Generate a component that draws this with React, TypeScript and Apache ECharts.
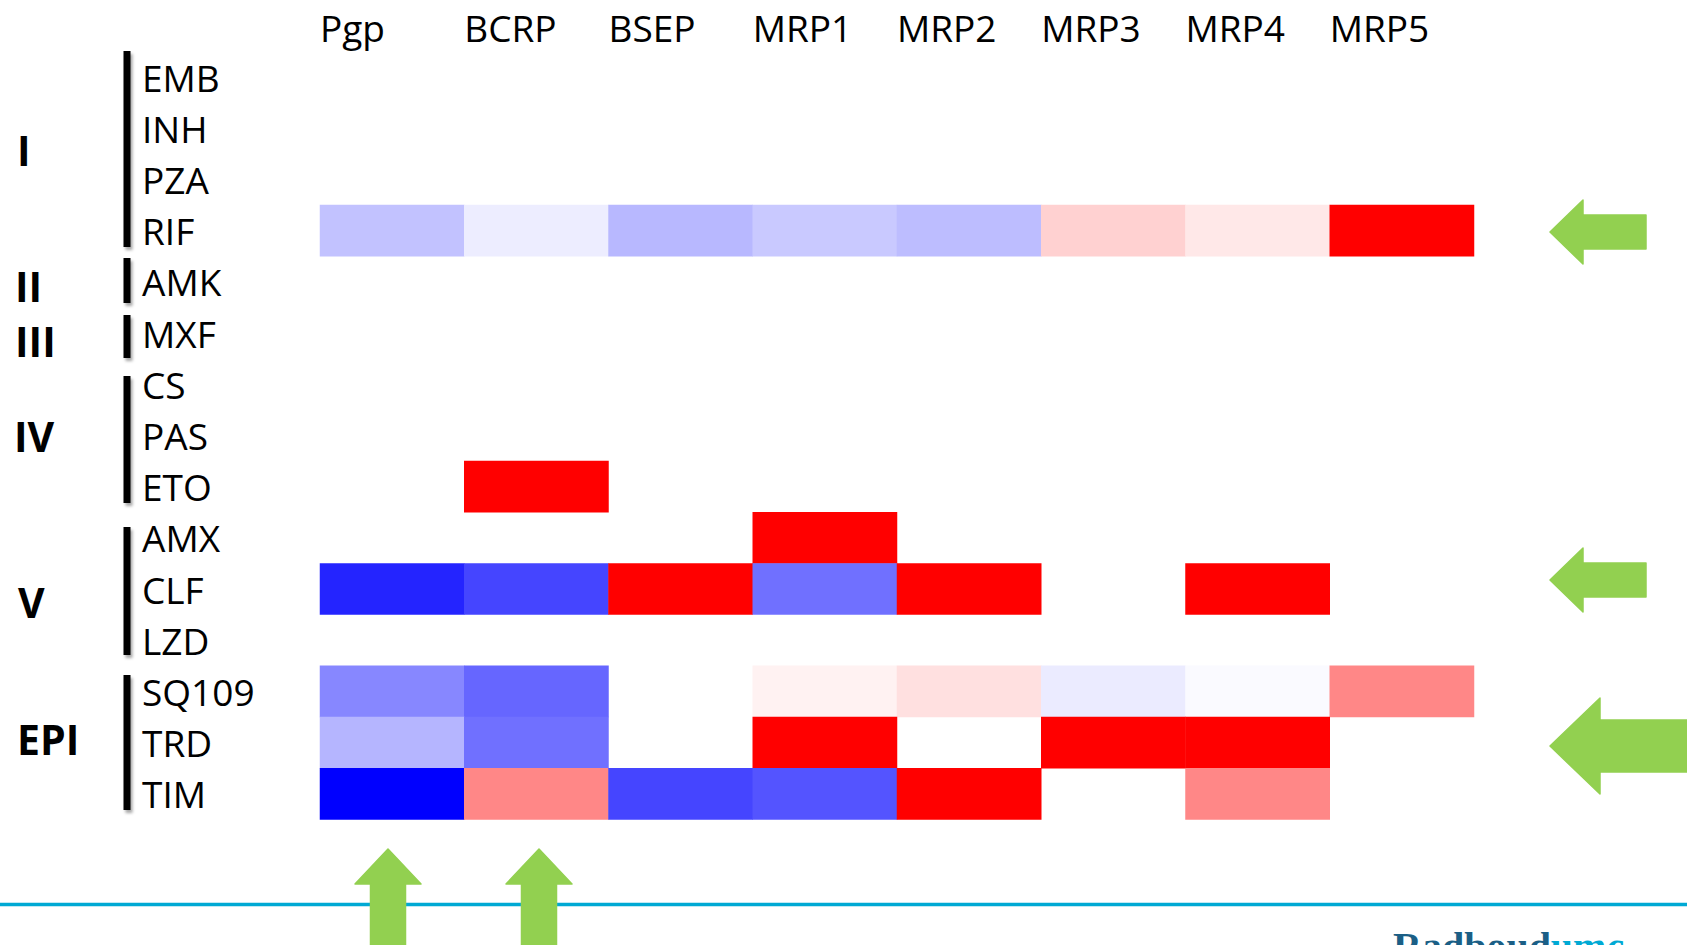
import React, { useEffect, useRef } from "react";
import * as echarts from "echarts";

// ---------- data ----------
const transporters = ["Pgp", "BCRP", "BSEP", "MRP1", "MRP2", "MRP3", "MRP4", "MRP5"];
const drugs = ["EMB", "INH", "PZA", "RIF", "AMK", "MXF", "CS", "PAS", "ETO", "AMX", "CLF", "LZD", "SQ109", "TRD", "TIM"];

// effect per transporter (-100 = strongest blue, +100 = strongest red, null = no effect shown)
const EMB = [null, null, null, null, null, null, null, null];
const INH = [null, null, null, null, null, null, null, null];
const PZA = [null, null, null, null, null, null, null, null];
const RIF = [-24, -7, -28, -21, -26, 18, 9, 100];
const AMK = [null, null, null, null, null, null, null, null];
const MXF = [null, null, null, null, null, null, null, null];
const CS = [null, null, null, null, null, null, null, null];
const PAS = [null, null, null, null, null, null, null, null];
const ETO = [null, 100, null, null, null, null, null, null];
const AMX = [null, null, null, 100, null, null, null, null];
const CLF = [-86, -73, 100, -56, 100, null, 100, null];
const LZD = [null, null, null, null, null, null, null, null];
const SQ109 = [-47, -60, null, 5, 12, -8, -2, 47];
const TRD = [-29, -56, null, 100, null, 100, 100, null];
const TIM = [-100, 47, -73, -67, 100, null, 47, null];

const rows = [EMB, INH, PZA, RIF, AMK, MXF, CS, PAS, ETO, AMX, CLF, LZD, SQ109, TRD, TIM];

const groupLabels = ["I", "II", "III", "IV", "V", "EPI"];

// ---------- layout ----------
const W = 1687;
const H = 945;
const FONT = "'Open Sans', 'Noto Sans', sans-serif";
const GRID_LEFT = 320;
const GRID_TOP = 51.4;
const GRID_W = 1154;
const GRID_H = 768;
const CELL_W = GRID_W / transporters.length;

const groupLabelY = [150, 286, 341, 436, 602, 739];
const groupLabelX = [17, 15, 15, 14, 18, 17];
const groupBars = [
  [51, 247],
  [258, 303],
  [315, 358],
  [376, 503],
  [527, 655],
  [675, 810],
];

const GREEN = "#92d050";

export default function App() {
  const ref = useRef<HTMLDivElement>(null);

  useEffect(() => {
    if (!ref.current) return;
    const chart = echarts.init(ref.current, undefined, { renderer: "svg" });

    const data: any[] = [];
    rows.forEach((row, i) => {
      row.forEach((v, j) => {
        if (v !== null) data.push([j, i, v]);
      });
    });

    const graphic: any[] = [];

    groupLabels.forEach((g, k) => {
      graphic.push({
        type: "text",
        z: 10,
        style: {
          text: g,
          x: groupLabelX[k],
          y: groupLabelY[k],
          fontFamily: FONT,
          fontWeight: "bold",
          fontSize: 41,
          fill: "#000",
          align: "left",
          verticalAlign: "middle",
        },
      });
    });

    groupBars.forEach(([y0, y1]) => {
      graphic.push({
        type: "rect",
        z: 10,
        shape: { x: 123.5, y: y0, width: 7, height: y1 - y0 },
        style: {
          fill: "#000",
          shadowColor: "rgba(0,0,0,0.35)",
          shadowBlur: 3,
          shadowOffsetX: 2,
          shadowOffsetY: 3,
        },
      });
    });

    // bottom rule
    graphic.push({
      type: "line",
      z: 5,
      shape: { x1: 0, y1: 904.5, x2: W, y2: 904.5 },
      style: { stroke: "#00a9d4", lineWidth: 3.5 },
    });

    // left-pointing arrows
    const leftArrow = (tipX: number, cy: number, headBackX: number, headHalf: number, shaftHalf: number, rightX: number) => ({
      type: "polygon",
      z: 10,
      shape: {
        points: [
          [tipX, cy],
          [headBackX, cy - headHalf],
          [headBackX, cy - shaftHalf],
          [rightX, cy - shaftHalf],
          [rightX, cy + shaftHalf],
          [headBackX, cy + shaftHalf],
          [headBackX, cy + headHalf],
        ],
      },
      style: { fill: GREEN, stroke: GREEN, lineWidth: 1.5, lineJoin: "round" },
    });
    graphic.push(leftArrow(1550, 232, 1583, 32, 17, 1646));
    graphic.push(leftArrow(1550, 580, 1583, 32, 17, 1646));
    graphic.push(leftArrow(1550, 746, 1600, 48, 26, 1700));

    // up-pointing arrows
    const upArrow = (cx: number) => ({
      type: "polygon",
      z: 10,
      shape: {
        points: [
          [cx, 849],
          [cx + 33, 884],
          [cx + 17.5, 884],
          [cx + 17.5, 960],
          [cx - 17.5, 960],
          [cx - 17.5, 884],
          [cx - 33, 884],
        ],
      },
      style: { fill: GREEN, stroke: GREEN, lineWidth: 1.5, lineJoin: "round" },
    });
    graphic.push(upArrow(388));
    graphic.push(upArrow(539));

    // logo text (cut off at the bottom edge, as in the original slide)
    graphic.push({
      type: "text",
      z: 10,
      style: {
        text: "{a|Radboud}{b|umc}",
        x: 1393,
        y: 926,
        align: "left",
        verticalAlign: "top",
        rich: {
          a: { fontFamily: "'Liberation Serif', serif", fontWeight: "bold", fontSize: 40, fill: "#1b5f86", color: "#1b5f86" },
          b: { fontFamily: "'Liberation Serif', serif", fontWeight: "bold", fontSize: 40, fill: "#00a9d4", color: "#00a9d4" },
        },
      },
    });

    chart.setOption({
      animation: false,
      backgroundColor: "#ffffff",
      grid: {
        left: GRID_LEFT,
        top: GRID_TOP,
        width: GRID_W,
        height: GRID_H,
        containLabel: false,
        outerBoundsMode: "none",
      },
      xAxis: {
        type: "category",
        position: "top",
        data: transporters,
        axisLine: { show: false },
        axisTick: { show: false },
        splitLine: { show: false },
        axisLabel: {
          interval: 0,
          margin: 24,
          verticalAlign: "middle",
          fontFamily: FONT,
          fontSize: 37,
          color: "#000",
          formatter: (v: string) => `{t|${v}}`,
          rich: {
            t: { width: CELL_W, align: "left", fontFamily: FONT, fontSize: 37, color: "#000" },
          },
        },
      },
      yAxis: {
        type: "category",
        inverse: true,
        data: drugs,
        axisLine: { show: false },
        axisTick: { show: false },
        splitLine: { show: false },
        axisLabel: {
          interval: 0,
          margin: 178,
          align: "left",
          verticalAlign: "middle",
          fontFamily: FONT,
          fontSize: 37,
          color: "#000",
        },
      },
      visualMap: {
        show: false,
        type: "continuous",
        min: -100,
        max: 100,
        dimension: 2,
        inRange: { color: ["#0000ff", "#ffffff", "#ff0000"] },
      },
      series: [
        {
          type: "heatmap",
          data,
          itemStyle: { borderWidth: 0 },
          emphasis: { disabled: true },
          progressive: 0,
        },
      ],
      graphic,
    });

    return () => chart.dispose();
  }, []);

  return (
    <div
      ref={ref}
      style={{ position: "absolute", left: 0, top: 0, width: W, height: H, background: "#fff" }}
    />
  );
}
